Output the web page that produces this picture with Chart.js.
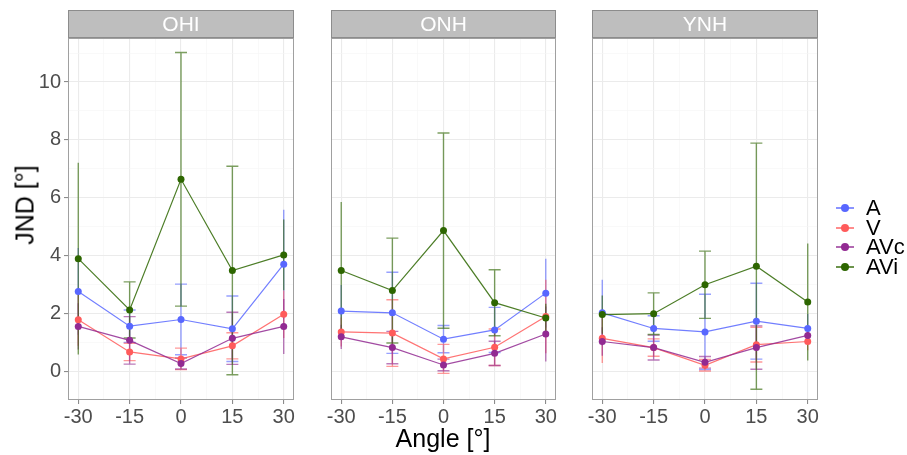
<!DOCTYPE html>
<html>
<head>
<meta charset="utf-8">
<script src="https://cdn.jsdelivr.net/npm/chart.js@4.4.0/dist/chart.umd.min.js"></script>
<style>
  body { margin: 0; background: #fff; font-family: "Liberation Sans", Arial, sans-serif; }
  #wrap { position: relative; width: 907px; height: 455px; overflow: hidden; }
  canvas { position: absolute; top: 0; }
  .ttl { position: absolute; color: #000; font-size: 25px; white-space: nowrap; line-height: 25px; }
  .key { position: absolute; left: 836px; width: 18px; height: 2px; }
  .dot { position: absolute; left: 841px; width: 8px; height: 8px; border-radius: 50%; }
  .lab { position: absolute; left: 866px; font-size: 22px; color: #000; line-height: 22px; }
</style>
</head>
<body>
<div id="wrap">
  <canvas id="c1" width="320" height="455" style="left:0px"></canvas>
  <canvas id="c2" width="280" height="455" style="left:300px"></canvas>
  <canvas id="c3" width="280" height="455" style="left:560px"></canvas>
  <div class="ttl" style="left:25px; top:205px; transform: translate(-50%, -50%) rotate(-90deg);">JND [°]</div>
  <div class="ttl" style="left:443px; top:438px; transform: translate(-50%, -50%);">Angle [°]</div>
  <div id="legend"></div>
</div>
<script>
"use strict";

// angles
const angles = [-30, -15, 0, 15, 30];
const seriesNames = ['A', 'V', 'AVc', 'AVi'];
const seriesColors = ['#5867ff', '#ff5b5b', '#922a92', '#2d6600'];
const panelNames = ['OHI', 'ONH', 'YNH'];

// OHI
const ohiA = [2.77, 1.57, 1.80, 1.48, 3.71];
const ohiAErr = [1.50, 0.56, 1.22, 1.13, 1.88];
const ohiV = [1.79, 0.68, 0.44, 0.89, 1.98];
const ohiVErr = [0.90, 0.30, 0.37, 0.45, 0.82];
const ohiAVc = [1.56, 1.08, 0.28, 1.15, 1.56];
const ohiAVcErr = [0.80, 0.82, 0.19, 0.90, 0.95];
const ohiAVi = [3.90, 2.13, 6.64, 3.49, 4.03];
const ohiAViErr = [3.31, 0.97, 4.38, 3.60, 1.22];

// ONH
const onhA = [2.09, 2.03, 1.12, 1.44, 2.71];
const onhAErr = [0.90, 1.40, 0.47, 0.78, 1.19];
const onhV = [1.37, 1.33, 0.44, 0.84, 1.90];
const onhVErr = [0.50, 1.15, 0.50, 0.63, 1.27];
const onhAVc = [1.20, 0.83, 0.23, 0.63, 1.30];
const onhAVcErr = [0.42, 0.56, 0.20, 0.42, 0.95];
const onhAVi = [3.49, 2.80, 4.87, 2.38, 1.85];
const onhAViErr = [2.37, 1.81, 3.37, 1.14, 0.49];

// YNH
const ynhA = [2.03, 1.49, 1.37, 1.74, 1.49];
const ynhAErr = [1.14, 0.44, 1.30, 1.31, 0.50];
const ynhV = [1.15, 0.83, 0.22, 0.93, 1.04];
const ynhVErr = [0.85, 0.30, 0.20, 0.60, 0.30];
const ynhAVc = [1.04, 0.83, 0.32, 0.83, 1.25];
const ynhAVcErr = [0.49, 0.43, 0.20, 0.75, 0.30];
const ynhAVi = [1.97, 2.00, 3.00, 3.64, 2.40];
const ynhAViErr = [0.66, 0.72, 1.16, 4.25, 2.02];

// ticks (major + minor for the grid)
const xMajor = [-30, -15, 0, 15, 30];
const xMinor = [-22.5, -7.5, 7.5, 22.5];
const yMajor = [0, 2, 4, 6, 8, 10];
const yMinor = [1, 3, 5, 7, 9, 11];

function alpha(hex, a) {
    const n = parseInt(hex.slice(1), 16);
    return `rgba(${n >> 16}, ${(n >> 8) & 255}, ${n & 255}, ${a})`;
}

const errorBars = {
    id: 'errorBars',
    beforeDatasetsDraw(chart) {
        const ctx = chart.ctx;
        const xs = chart.scales.x, ys = chart.scales.y;
        ctx.save();
        chart.data.datasets.forEach(function (ds) {
            ctx.strokeStyle = alpha(ds.baseColor, 0.62);
            ctx.lineWidth = 1.4;
            ds.data.forEach(function (p, i) {
                const e = ds.errors[i];
                const x = xs.getPixelForValue(p.x);
                const y1 = ys.getPixelForValue(p.y + e);
                const y2 = ys.getPixelForValue(p.y - e);
                ctx.beginPath();
                ctx.moveTo(x, y1);
                ctx.lineTo(x, y2);
                // no caps on the outer angles
                if (i > 0 && i < ds.data.length - 1) {
                    ctx.moveTo(x - 6, y1); ctx.lineTo(x + 6, y1);
                    ctx.moveTo(x - 6, y2); ctx.lineTo(x + 6, y2);
                }
                ctx.stroke();
            });
        });
        ctx.restore();
    }
};

const panelDecor = {
    id: 'panelDecor',
    afterDraw(chart, args, opts) {
        const ctx = chart.ctx;
        const a = chart.chartArea;
        ctx.save();
        ctx.strokeStyle = '#a0a0a0';
        ctx.lineWidth = 1;
        ctx.strokeRect(a.left + 0.5, a.top + 0.5, a.right - a.left - 1, a.bottom - a.top - 1);
        ctx.fillStyle = '#bebebe';
        ctx.fillRect(a.left, 10, a.right - a.left, 28);
        ctx.strokeStyle = '#8c8c8c';
        ctx.strokeRect(a.left + 0.5, 10.5, a.right - a.left - 1, 27);
        ctx.fillStyle = '#ffffff';
        ctx.font = '21px "Liberation Sans", Arial, sans-serif';
        ctx.textAlign = 'center';
        ctx.textBaseline = 'middle';
        ctx.fillText(opts.title, (a.left + a.right) / 2, 25);
        ctx.restore();
    }
};

function makePanel(id, title, values, errors, yWidth, padRight, showY) {
    const datasets = values.map(function (vals, k) {
        return {
            label: seriesNames[k],
            data: angles.map((x, i) => ({ x: x, y: vals[i] })),
            errors: errors[k],
            baseColor: seriesColors[k],
            borderColor: alpha(seriesColors[k], 0.85),
            backgroundColor: seriesColors[k],
            borderWidth: 1.2,
            pointRadius: 3.5,
            pointBorderWidth: 0,
            tension: 0,
            order: 3 - k
        };
    });
    const tickFont = { family: '"Liberation Sans", Arial, sans-serif', size: 20 };
    return new Chart(document.getElementById(id), {
        type: 'line',
        data: { datasets: datasets },
        plugins: [errorBars, panelDecor],
        options: {
            responsive: false,
            animation: false,
            devicePixelRatio: 1,
            layout: { padding: { top: 38, right: padRight, bottom: 0, left: 0 } },
            plugins: {
                legend: { display: false },
                tooltip: { enabled: false },
                panelDecor: { title: title }
            },
            scales: {
                x: {
                    type: 'linear',
                    min: -33, max: 33,
                    afterBuildTicks: s => { s.ticks = xMajor.concat(xMinor).map(v => ({ value: v })); },
                    afterFit: s => { s.height = 55; s.paddingLeft = 0; s.paddingRight = 0; },
                    border: { display: false },
                    grid: {
                        color: c => xMajor.includes(c.tick.value) ? '#ebebeb' : '#f5f5f5',
                        lineWidth: c => xMajor.includes(c.tick.value) ? 1.1 : 0.6,
                        tickColor: c => xMajor.includes(c.tick.value) ? '#8c8c8c' : 'rgba(0,0,0,0)',
                        tickLength: 4
                    },
                    ticks: {
                        autoSkip: false,
                        maxRotation: 0,
                        padding: 1,
                        color: '#4d4d4d',
                        font: tickFont,
                        callback: v => xMajor.includes(v) ? String(v) : ''
                    }
                },
                y: {
                    type: 'linear',
                    min: -0.98, max: 11.52,
                    afterBuildTicks: s => { s.ticks = yMajor.concat(yMinor).map(v => ({ value: v })); },
                    afterFit: s => { s.width = yWidth; s.paddingTop = 0; s.paddingBottom = 0; },
                    border: { display: false },
                    grid: {
                        color: c => yMajor.includes(c.tick.value) ? '#ebebeb' : '#f5f5f5',
                        lineWidth: c => yMajor.includes(c.tick.value) ? 1.1 : 0.6,
                        tickColor: c => (showY && yMajor.includes(c.tick.value)) ? '#8c8c8c' : 'rgba(0,0,0,0)',
                        tickLength: 4
                    },
                    ticks: {
                        display: showY,
                        autoSkip: false,
                        padding: 3,
                        color: '#4d4d4d',
                        font: tickFont,
                        callback: v => yMajor.includes(v) ? String(v) : ''
                    }
                }
            }
        }
    });
}

makePanel('c1', panelNames[0], [ohiA, ohiV, ohiAVc, ohiAVi], [ohiAErr, ohiVErr, ohiAVcErr, ohiAViErr], 68, 26, true);
makePanel('c2', panelNames[1], [onhA, onhV, onhAVc, onhAVi], [onhAErr, onhVErr, onhAVcErr, onhAViErr], 31, 24, false);
makePanel('c3', panelNames[2], [ynhA, ynhV, ynhAVc, ynhAVi], [ynhAErr, ynhVErr, ynhAVcErr, ynhAViErr], 32, 22, false);

// legend
const legend = document.getElementById('legend');
seriesNames.forEach(function (name, k) {
    const y = 208 + k * 19.6;
    legend.insertAdjacentHTML('beforeend',
        `<div class="key" style="top:${y - 1}px;background:${alpha(seriesColors[k], 0.7)}"></div>` +
        `<div class="dot" style="top:${y - 4}px;background:${seriesColors[k]}"></div>` +
        `<div class="lab" style="top:${y - 11}px">${name}</div>`);
});
</script>
</body>
</html>
